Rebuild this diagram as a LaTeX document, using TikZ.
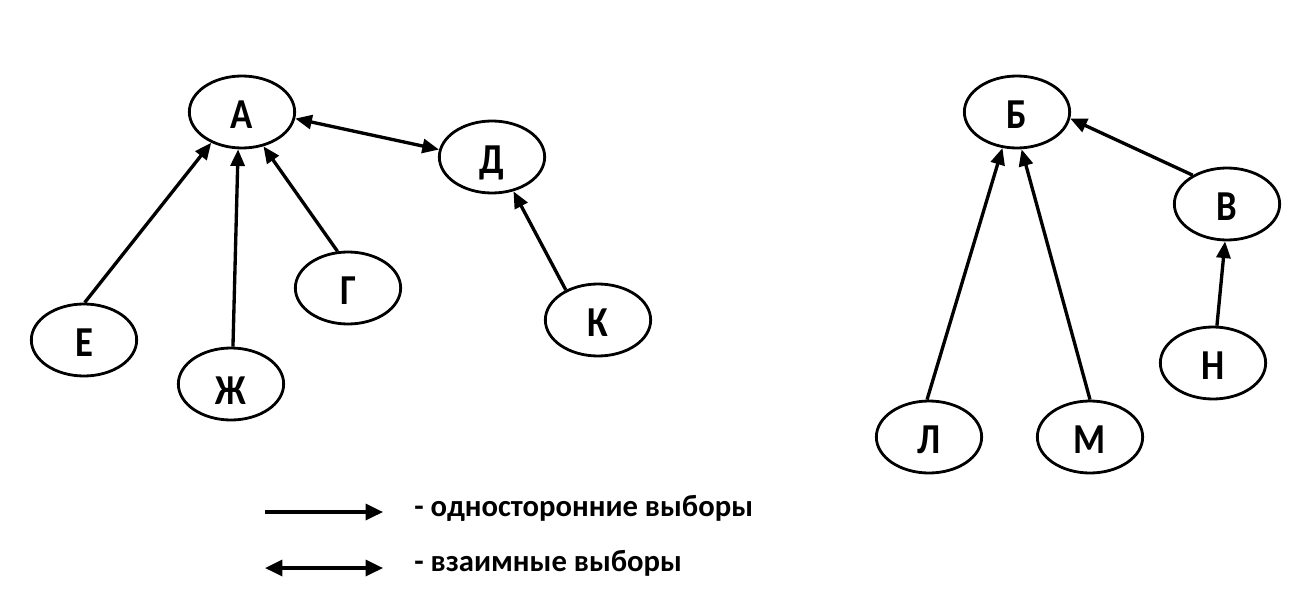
\documentclass[tikz,border=0pt]{standalone}
\usepackage{fontspec}
\setmainfont{Carlito}
\usetikzlibrary{shapes.geometric,arrows.meta}
\newcommand{\plab}[1]{\scalebox{0.86}[1]{#1}}
\tikzset{
  person/.style={ellipse, draw, line width=2.1pt, minimum width=79pt, minimum height=54pt, inner sep=0pt, text height=24pt, text depth=0pt, font=\bfseries\fontsize{32}{34}\selectfont},
  onearrow/.style={line width=2.5pt, -{Triangle[length=12.5pt,width=10.5pt]}},
  twoarrow/.style={line width=2.5pt, {Triangle[length=12.5pt,width=10.5pt]}-{Triangle[length=12.5pt,width=10.5pt]}},
  legone/.style={line width=2.5pt, -{Triangle[length=13pt,width=12pt]}},
  legtwo/.style={line width=2.5pt, {Triangle[length=13pt,width=12pt]}-{Triangle[length=13pt,width=12pt]}},
  legtext/.style={anchor=west, inner sep=0pt, font=\bfseries\fontsize{23}{25}\selectfont}
}
\begin{document}
\begin{tikzpicture}[x=0.75pt,y=-0.75pt]
\useasboundingbox (0,0) rectangle (1308,613);
% left group
\node[person] (A) at (242,112) {\plab{А}};
\node[person] (D) at (492,157) {\plab{Д}};
\node[person] (E) at (84,340) {\plab{Е}};
\node[person, text height=31pt] (Zh) at (231,384) {\plab{Ж}};
\node[person] (G) at (348,288) {\plab{Г}};
\node[person] (K) at (598,320) {\plab{К}};
% right group
\node[person] (B) at (1017,112) {\plab{Б}};
\node[person] (V) at (1227,204) {\plab{В}};
\node[person] (N) at (1213,363) {\plab{Н}};
\node[person] (L) at (929,437) {\plab{Л}};
\node[person] (M) at (1090,437) {\plab{М}};
% connectors
\draw[onearrow] (E.89) -- (A.225);
\draw[onearrow] (Zh.87) -- (A.264);
\draw[onearrow] (G.106) -- (A.302);
\draw[twoarrow] (A.353) -- (D.172);
\draw[onearrow] (K.137) -- (D.302);
\draw[onearrow] (L.93) -- (B.248);
\draw[onearrow] (M.90) -- (B.277);
\draw[onearrow] (V.140) -- (B.353);
\draw[onearrow] (N.84) -- (V.267);
% legend
\coordinate (l1a) at (265,512);
\coordinate (l1b) at (383,512);
\coordinate (l2a) at (265,568);
\coordinate (l2b) at (383,568);
\draw[legone] (l1a) -- (l1b);
\draw[legtwo] (l2a) -- (l2b);
\node[legtext] (t1) at (414,508) {- односторонние выборы};
\node[legtext] (t2) at (414,563) {- взаимные выборы};
\end{tikzpicture}
\end{document}
